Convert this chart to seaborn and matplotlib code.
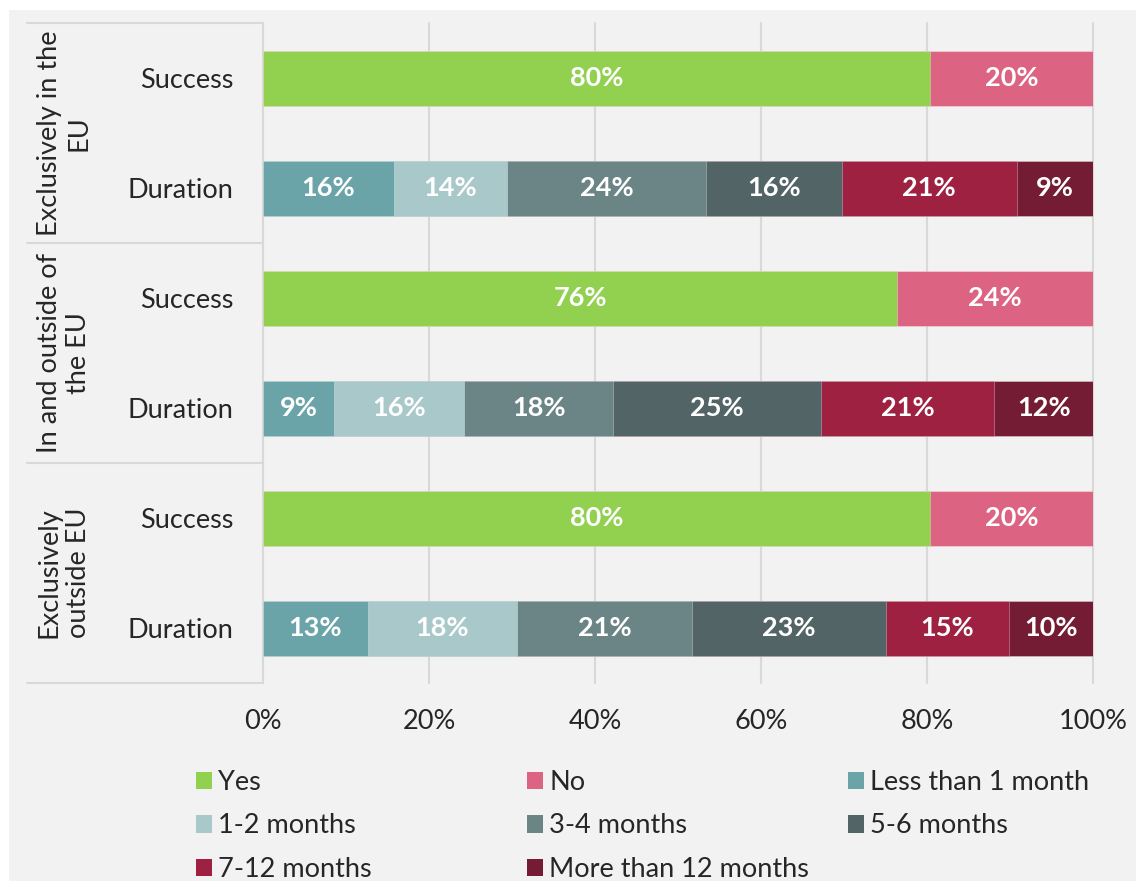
import numpy as np
import pandas as pd
import matplotlib
matplotlib.use("Agg")
import matplotlib.pyplot as plt
import matplotlib.transforms as mtransforms
from matplotlib.patches import Rectangle, Patch
import seaborn as sns

# ---- data -------------------------------------------------------------
groups = ["Exclusively in the\nEU", "In and outside of\nthe EU", "Exclusively\noutside EU"]
measures = ["Success", "Duration"]

success_labels = ["Yes", "No"]
duration_labels = ["Less than 1 month", "1-2 months", "3-4 months",
                   "5-6 months", "7-12 months", "More than 12 months"]

success_in_eu = [80.4, 19.6]
success_in_and_out = [76.4, 23.6]
success_outside = [80.4, 19.6]

duration_in_eu = [15.8, 13.6, 24.0, 16.3, 21.1, 9.2]
duration_in_and_out = [8.6, 15.6, 18.0, 25.0, 20.9, 11.9]
duration_outside = [12.6, 18.0, 21.1, 23.3, 14.9, 10.1]

x_ticks = [0, 20, 40, 60, 80, 100]
x_tick_labels = ["0%", "20%", "40%", "60%", "80%", "100%"]

palette = {
    "Yes": "#92D050",
    "No": "#DC6382",
    "Less than 1 month": "#6AA4A8",
    "1-2 months": "#A8C8CA",
    "3-4 months": "#6B8586",
    "5-6 months": "#526466",
    "7-12 months": "#9E2142",
    "More than 12 months": "#741C33",
}

# ---- long-form table with stacked extents ------------------------------
series = [
    (groups[0], "Success", success_labels, success_in_eu),
    (groups[0], "Duration", duration_labels, duration_in_eu),
    (groups[1], "Success", success_labels, success_in_and_out),
    (groups[1], "Duration", duration_labels, duration_in_and_out),
    (groups[2], "Success", success_labels, success_outside),
    (groups[2], "Duration", duration_labels, duration_outside),
]
rows = []
for g, m, labs, vals in series:
    start = 0.0
    for lab, v in zip(labs, vals):
        rows.append({"bar": f"{g}|{m}", "group": g, "measure": m,
                     "segment": lab, "value": v, "start": start, "end": start + v})
        start += v
df = pd.DataFrame(rows)
bar_order = [f"{g}|{m}" for g, m, _, _ in series]
segment_order = success_labels + duration_labels

# ---- style ---------------------------------------------------------------
sns.set_style("white")
plt.rcParams["font.family"] = ["Lato", "DejaVu Sans"]
FS = 19.5
BG = "#F2F2F2"
LINE = "#D9D9D9"

fig = plt.figure(figsize=(11.36, 8.81), dpi=100, facecolor="white")
fig.patches.append(Rectangle((9 / 1136, 0), 1 - 9 / 1136, 1 - 10 / 881,
                             transform=fig.transFigure, facecolor=BG,
                             edgecolor="none", zorder=-10))
ax = fig.add_axes([263 / 1136, 1 - 683 / 881, 830 / 1136, 660 / 881])
ax.set_facecolor("none")

# cumulative layers, drawn from the right-most segment backwards
for seg in reversed(segment_order):
    sub = df[df["segment"] == seg]
    sns.barplot(data=sub, x="end", y="bar", order=bar_order, orient="h",
                color=palette[seg], saturation=1, width=0.5,
                edgecolor=(1, 1, 1, 0.3), linewidth=0.7, ax=ax, zorder=3)

for _, r in df.iterrows():
    ypos = bar_order.index(r["bar"])
    ax.text(r["start"] + r["value"] / 2, ypos, f"{r['value']:.0f}%",
            ha="center", va="center", color="white", fontsize=FS,
            fontweight="bold", zorder=5)

ax.set_xlim(0, 100)
ax.set_ylim(len(bar_order) - 0.5, -0.5)
ax.set_xticks(x_ticks)
ax.set_xticklabels(x_tick_labels, fontsize=FS)
ax.set_yticks(range(len(bar_order)))
ax.set_yticklabels([b.split("|")[1] for b in bar_order], fontsize=FS)
ax.set_xlabel("")
ax.set_ylabel("")
ax.tick_params(axis="x", length=0, pad=19)
ax.tick_params(axis="y", length=0, pad=21)

for s in ["top", "right", "bottom"]:
    ax.spines[s].set_visible(False)
ax.spines["left"].set_color(LINE)
ax.spines["left"].set_linewidth(1.5)

for xt in x_ticks[1:]:
    ax.axvline(xt, color=LINE, lw=1.5, zorder=1, clip_on=False)

# group separators and rotated group labels on the left
trans = mtransforms.blended_transform_factory(ax.transAxes, ax.transData)
for b in [-0.5, 1.5, 3.5, 5.5]:
    ax.plot([-0.2843, 0], [b, b], transform=trans, color=LINE, lw=1.5,
            clip_on=False, zorder=1)
for i, g in enumerate(groups):
    ax.text(-0.2398, 2 * i + 0.5, g, transform=trans, rotation=90,
            ha="center", va="center", multialignment="center",
            fontsize=FS, linespacing=1.22)

# legend, three columns laid out row by row
def handle(lab):
    return Patch(facecolor=palette[lab], edgecolor="none", label=lab)

columns = [["Yes", "1-2 months", "7-12 months"],
           ["No", "3-4 months", "More than 12 months"],
           ["Less than 1 month", "5-6 months"]]
col_x = [196, 527, 848]
for cx, labs in zip(col_x, columns):
    leg = fig.legend(handles=[handle(l) for l in labs], loc="upper left",
                     bbox_to_anchor=(cx / 1136, 1 - 770 / 881), frameon=False,
                     fontsize=FS, handlelength=0.6, handleheight=0.62,
                     handletextpad=0.22, labelspacing=0.68, borderaxespad=0,
                     borderpad=0)

fig.savefig("out.png", dpi=100, facecolor="white")
